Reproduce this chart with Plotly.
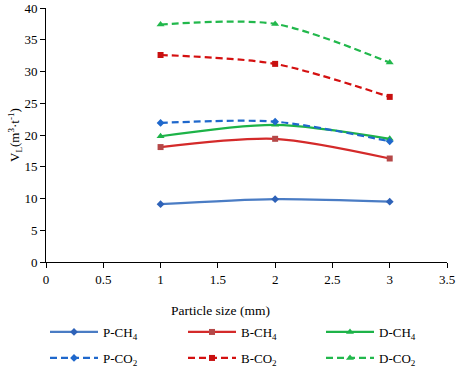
import plotly.graph_objects as go

sizes = [1, 2, 3]
p_ch4 = [9.1, 9.9, 9.5]
b_ch4 = [18.1, 19.4, 16.3]
d_ch4 = [19.8, 21.6, 19.4]
p_co2 = [21.9, 22.1, 19.0]
b_co2 = [32.6, 31.2, 26.0]
d_co2 = [37.4, 37.5, 31.4]

series = [
    ("P-CH<sub>4</sub>", p_ch4, "#4a7cc4", "#2e62b8", "diamond", "solid", 6),
    ("B-CH<sub>4</sub>", b_ch4, "#d42a2a", "#b54848", "square", "solid", 6),
    ("D-CH<sub>4</sub>", d_ch4, "#1db348", "#1db348", "triangle-up", "solid", 7),
    ("P-CO<sub>2</sub>", p_co2, "#1f68cc", "#1f68cc", "diamond", "7px,4px", 6),
    ("B-CO<sub>2</sub>", b_co2, "#d41010", "#c81010", "square", "7px,4px", 6),
    ("D-CO<sub>2</sub>", d_co2, "#22b84c", "#22b84c", "triangle-up", "7px,4px", 7),
]

# legend slot per trace: (left px, center y px) in the 457x371 figure
legend_pos = [(45, 332), (183, 332), (321, 332), (45, 358), (183, 358), (321, 358)]

fig = go.Figure()
legends = {}
for i, ((name, ys, lc, mc, sym, dash, ms), (lx, ly)) in enumerate(zip(series, legend_pos)):
    key = "legend" if i == 0 else f"legend{i + 1}"
    fig.add_trace(go.Scatter(
        x=sizes, y=ys, name=name, mode="lines+markers", legend=key,
        line=dict(color=lc, width=2.2, dash=dash, shape="spline", smoothing=0.8),
        marker=dict(color=mc, symbol=sym, size=ms),
    ))
    legends[key] = dict(xref="container", yref="container",
                        x=lx / 457, y=1 - ly / 371, xanchor="left", yanchor="middle",
                        itemwidth=48, bgcolor="rgba(0,0,0,0)",
                        font=dict(family="Liberation Serif", size=13, color="black"))

fig.update_layout(
    width=457, height=371,
    margin=dict(l=46, r=10, t=8, b=109, autoexpand=False),
    paper_bgcolor="white", plot_bgcolor="white",
    font=dict(family="Liberation Serif", size=12, color="black"),
    showlegend=True,
    xaxis=dict(range=[0, 3.5], dtick=0.5, showgrid=False, zeroline=False,
               showline=True, linecolor="black", linewidth=1,
               ticks="outside", ticklen=5, tickcolor="black",
               tickfont=dict(size=13), automargin=False),
    yaxis=dict(range=[0, 40], dtick=5, showgrid=False, zeroline=False,
               showline=True, linecolor="black", linewidth=1,
               ticks="outside", ticklen=5, tickcolor="black",
               tickfont=dict(size=13), automargin=False),
    annotations=[
        dict(text="Particle size (mm)", xref="paper", yref="paper",
             x=(220 - 46) / 401, y=-48 / 254, xanchor="center", yanchor="middle",
             showarrow=False, font=dict(family="Liberation Serif", size=13.5)),
        dict(text="V<sub>L</sub>(m<sup>3</sup>·t<sup>-1</sup>)", xref="paper", yref="paper",
             x=-31 / 401, y=0.5, xanchor="center", yanchor="middle", textangle=-90,
             showarrow=False, font=dict(family="Liberation Serif", size=13)),
    ],
    **legends,
)

fig.write_html("out.html", config={"displayModeBar": False},
               post_script="document.body.style.margin='0';")
